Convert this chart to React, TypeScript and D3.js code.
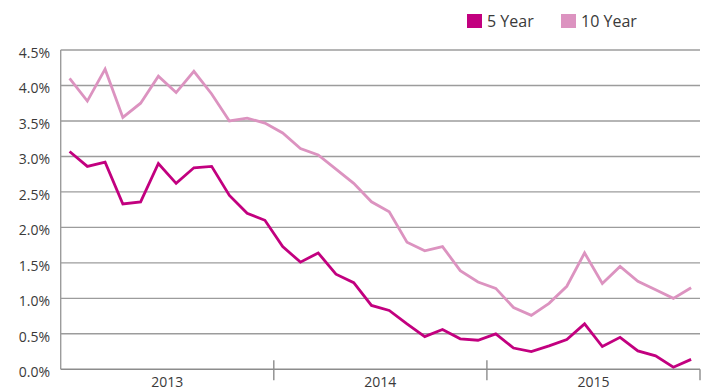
import React from "react";
import * as d3 from "d3";

const months: number[] = d3.range(36);
const yearLabels = ["2013", "2014", "2015"];
const yTicks = [0, 0.5, 1, 1.5, 2, 2.5, 3, 3.5, 4, 4.5];

const fiveYear = [
  3.07, 2.86, 2.92, 2.33, 2.36, 2.9, 2.62, 2.84, 2.86, 2.45, 2.2, 2.1,
  1.73, 1.51, 1.64, 1.34, 1.22, 0.9, 0.83, 0.64, 0.46, 0.56, 0.43, 0.41,
  0.5, 0.3, 0.25, 0.33, 0.42, 0.64, 0.32, 0.45, 0.26, 0.19, 0.03, 0.14,
];
const tenYear = [
  4.1, 3.78, 4.23, 3.55, 3.75, 4.13, 3.9, 4.2, 3.88, 3.5, 3.54, 3.47,
  3.33, 3.11, 3.02, 2.82, 2.62, 2.36, 2.22, 1.79, 1.67, 1.73, 1.39, 1.23,
  1.14, 0.87, 0.76, 0.93, 1.17, 1.64, 1.21, 1.45, 1.24, 1.12, 1.0, 1.15,
];

const series = [
  { name: "5 Year", values: fiveYear, color: "#C2007F" },
  { name: "10 Year", values: tenYear, color: "#DC93C0" },
];

const W = 701;
const H = 390;
const left = 60.7;
const right = 700;
const top = 50;
const bottom = 369.3;
const font = "'Open Sans', 'Noto Sans', sans-serif";

export default function App() {
  const x = d3.scaleBand<number>().domain(months).range([left, right]).padding(0);
  const yearX = d3.scaleBand<string>().domain(yearLabels).range([left, right]);
  const y = d3.scaleLinear().domain([0, 4.5]).range([bottom, top]);
  const line = d3
    .line<number>()
    .x((_, i) => (x(i) as number) + x.bandwidth() / 2)
    .y((d) => y(d));

  const boundaries = [...yearLabels.map((l) => yearX(l) as number), right].slice(1);

  return (
    <svg
      width={W}
      height={H}
      style={{ position: "absolute", left: 0, top: 0, display: "block", background: "#fff" }}
    >
      {yTicks.map((t) => (
        <g key={t}>
          {t > 0 && (
            <line x1={left} x2={right} y1={y(t)} y2={y(t)} stroke="#9c9c9c" strokeWidth={1.4} />
          )}
          <text
            x={50}
            y={y(t)}
            dy={8}
            textAnchor="end"
            fontFamily={font}
            fontSize={14}
            fill="#3a3a3a"
          >
            {t.toFixed(1) + "%"}
          </text>
        </g>
      ))}
      <line x1={left} x2={left} y1={top} y2={bottom} stroke="#9c9c9c" strokeWidth={1.4} />
      <line x1={left} x2={right} y1={bottom} y2={bottom} stroke="#8c8c8c" strokeWidth={1.6} />
      {boundaries.map((b, i) => (
        <line
          key={i}
          x1={b}
          x2={b}
          y1={i === boundaries.length - 1 ? bottom : bottom - 9}
          y2={bottom + 11}
          stroke="#8c8c8c"
          strokeWidth={1.4}
        />
      ))}
      {yearLabels.map((l) => (
        <text
          key={l}
          x={(yearX(l) as number) + yearX.bandwidth() / 2}
          y={386.5}
          textAnchor="middle"
          fontFamily={font}
          fontSize={14}
          fill="#3a3a3a"
        >
          {l}
        </text>
      ))}
      {series.map((s) => (
        <path
          key={s.name}
          d={line(s.values) as string}
          fill="none"
          stroke={s.color}
          strokeWidth={2.8}
          strokeLinejoin="miter"
        />
      ))}
      {series.map((s, i) => {
        const lx = i === 0 ? 467 : 561;
        return (
          <g key={s.name}>
            <rect x={lx} y={14} width={15} height={14} fill={s.color} />
            <text x={lx + 20} y={27} fontFamily={font} fontSize={16} fill="#3a3a3a">
              {s.name}
            </text>
          </g>
        );
      })}
    </svg>
  );
}
